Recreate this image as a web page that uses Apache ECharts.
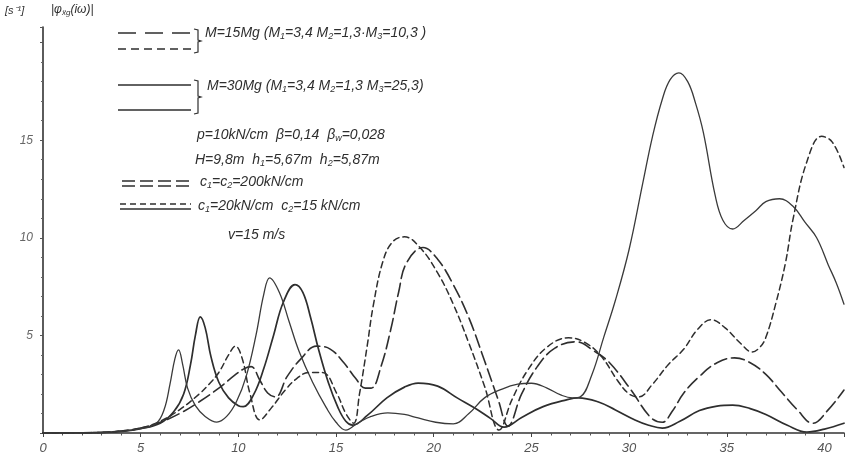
<!DOCTYPE html>
<html><head><meta charset="utf-8">
<script src="https://cdn.jsdelivr.net/npm/echarts@6/dist/echarts.min.js"></script>
<style>html,body{margin:0;padding:0;background:#fff}#c{width:847px;height:461px}</style>
</head><body><div id="c"></div>
<script>
// tick labels
const xTickLabels = ['0','5','10','15','20','25','30','35','40'];
const yTickLabels = ['5','10','15'];

// M=15Mg, c1=c2=200 kN/cm  (long dash)
const m15c200 = [[0,0],[3,0.03],[4,0.1],[5,0.25],[6,0.55],[7,1.0],[8,1.6],[9,2.3],[9.8,2.95],[10.3,3.3],[10.65,3.4],[11.1,2.7],[11.5,2.05],[11.9,1.85],[12.5,2.9],[13.2,3.8],[14.0,4.45],[14.7,4.3],[15.4,3.6],[16.0,2.8],[16.5,2.3],[16.8,2.3],[17.3,3.4],[17.8,5.3],[18.2,7.2],[18.6,8.7],[19.45,9.5],[20.2,8.9],[21.0,7.6],[21.8,5.9],[22.6,3.7],[23.3,1.7],[23.8,0.35],[24.5,2.0],[25.3,3.4],[26.2,4.35],[27.3,4.67],[28.2,4.2],[29.0,3.6],[30.1,2.2],[31.1,0.8],[31.7,0.55],[32.2,1.1],[32.8,2.05],[33.6,2.9],[34.5,3.6],[35.4,3.85],[36.2,3.6],[37.0,3.0],[37.8,2.1],[38.6,1.2],[39.4,0.5],[40.2,1.2],[41,2.2]];
// M=15Mg, c1=20 c2=15 kN/cm  (short dash)
const m15c20 = [[0,0],[3,0.03],[4,0.1],[5,0.25],[6,0.6],[7,1.2],[8,2.0],[8.5,2.5],[9.0,3.1],[9.5,4.0],[9.85,4.45],[10.2,3.8],[10.6,2.0],[11.1,0.67],[11.7,1.3],[12.4,2.2],[13.0,2.8],[13.6,3.1],[14.3,3.1],[15.05,2.0],[15.5,1.0],[15.9,0.5],[16.2,2.0],[16.6,4.5],[16.9,6.5],[17.4,8.8],[17.9,9.8],[18.5,10.05],[19.3,9.5],[20.2,8.2],[21.0,6.6],[21.8,4.6],[22.6,2.4],[23.35,0.15],[24.0,1.7],[24.8,3.2],[25.8,4.4],[26.9,4.88],[27.8,4.6],[28.6,3.9],[29.4,2.7],[30.0,2.0],[30.5,1.85],[31.2,2.5],[32.0,3.5],[32.8,4.3],[33.5,5.3],[34.2,5.8],[34.9,5.4],[35.7,4.6],[36.3,4.15],[36.7,4.4],[37.0,4.9],[37.5,6.6],[38.0,8.7],[38.4,11.0],[39.1,13.9],[39.85,15.2],[40.4,14.9],[41,13.6]];
// M=30Mg, c1=c2=200 kN/cm  (solid)
const m30c200 = [[0,0],[3,0.02],[4,0.08],[5,0.22],[6.0,0.5],[6.7,1.1],[7.2,2.0],[7.55,3.5],[7.8,5.0],[8.05,5.95],[8.3,5.4],[8.6,3.9],[9.0,2.6],[9.5,1.8],[10.0,1.4],[10.25,1.35],[10.8,2.0],[11.3,3.3],[11.8,5.0],[12.3,6.7],[12.9,7.6],[13.3,7.2],[13.7,5.9],[14.1,4.3],[14.6,2.6],[15.1,1.3],[15.5,0.6],[15.85,0.4],[16.6,0.9],[17.6,1.8],[18.5,2.35],[19.2,2.56],[20.2,2.4],[21.2,1.8],[22.1,1.28],[22.9,0.75],[23.6,0.3],[24.5,0.8],[25.6,1.35],[26.8,1.7],[27.4,1.8],[28.4,1.6],[29.3,1.18],[30.3,0.67],[31.0,0.4],[31.7,0.25],[32.6,0.6],[33.6,1.15],[34.5,1.38],[35.3,1.43],[36.2,1.25],[37.0,0.95],[38.1,0.4],[39.1,0.05],[40.0,0.2],[41,0.5]];
// M=30Mg, c1=20 c2=15 kN/cm  (solid, thin)
const m30c20 = [[0,0],[3,0.02],[4,0.08],[5,0.22],[5.8,0.5],[6.2,1.2],[6.5,2.5],[6.75,3.8],[6.94,4.26],[7.15,3.5],[7.4,2.3],[7.8,1.4],[8.3,0.85],[8.9,0.56],[9.4,0.85],[9.9,1.6],[10.4,2.9],[10.9,5.0],[11.3,7.1],[11.6,7.95],[12.1,7.2],[12.6,5.7],[13.1,4.2],[13.8,2.6],[14.5,1.3],[15.0,0.55],[15.5,0.15],[16.1,0.5],[16.8,0.85],[17.65,1.03],[18.5,0.95],[19.2,0.77],[20.1,0.55],[21.0,0.47],[21.8,1.0],[22.6,1.8],[23.5,2.25],[24.3,2.5],[25.0,2.55],[25.8,2.3],[26.5,1.95],[27.1,1.8],[27.5,1.85],[28.1,3.0],[28.7,4.9],[29.3,6.8],[30.0,9.4],[30.7,12.8],[31.2,15.2],[31.7,17.1],[32.1,18.1],[32.55,18.45],[33.0,18.0],[33.4,16.9],[33.8,15.4],[34.4,12.2],[34.8,10.9],[35.3,10.45],[35.9,10.9],[36.5,11.4],[37.0,11.85],[37.7,12.0],[38.4,11.6],[39.0,10.8],[39.6,10.0],[40.2,8.6],[40.6,7.7],[41,6.6]];

const ink = '#2e2e2e';
const font = 'Liberation Sans';
const chart = echarts.init(document.getElementById('c'), null, {renderer: 'canvas'});

function txt(x, y, text, size) {
  return {type: 'text', left: x, top: y, silent: true,
    style: {text: text, font: 'italic ' + size + 'px "' + font + '"', fill: ink}};
}
function ln(x1, y1, x2, y2, dash, w) {
  return {type: 'line', silent: true, shape: {x1: x1, y1: y1, x2: x2, y2: y2},
    style: {stroke: ink, lineWidth: w || 1.5, lineDash: dash || null}};
}
function brace(x, yTop, yBot) {
  const m = (yTop + yBot) / 2;
  return {type: 'polyline', silent: true,
    shape: {points: [[x, yTop], [x + 4, yTop + 1], [x + 4, m - 1], [x + 7, m], [x + 4, m + 1], [x + 4, yBot - 1], [x, yBot]]},
    style: {stroke: ink, lineWidth: 1.2, fill: null}};
}
const sub = {fontSize: 9, fontStyle: 'italic', fontFamily: font, fill: ink, padding: [6, 0, 0, 0]};
const nrm = {fontSize: 14, fontStyle: 'italic', fontFamily: font, fill: ink};

const longDash = [13, 5];
const shortDash = [6, 4];

function curve(name, data, width, dash, color) {
  return {name: name, type: 'line', data: data, showSymbol: false, smooth: 0.4,
    lineStyle: {color: color || ink, width: width, type: dash || 'solid', cap: 'round', join: 'round'}};
}

chart.setOption({
  animation: false,
  backgroundColor: '#ffffff',
  grid: {left: 43, right: 0, top: 27, bottom: 28, containLabel: false},
  xAxis: {
    type: 'value', min: 0, max: 41, interval: 5,
    axisLine: {show: true, lineStyle: {color: '#333', width: 1.6}},
    axisTick: {show: true, length: 4, lineStyle: {color: '#444'}},
    minorTick: {show: true, splitNumber: 5, length: 2.5, lineStyle: {color: '#555'}},
    splitLine: {show: false},
    axisLabel: {margin: 9, fontSize: 13, fontStyle: 'italic', fontFamily: font, color: '#555',
      formatter: v => xTickLabels.indexOf(String(v)) >= 0 ? String(v) : ''}
  },
  yAxis: {
    type: 'value', min: 0, max: 20.8, interval: 5,
    axisLine: {show: true, lineStyle: {color: '#333', width: 1.6}},
    axisTick: {show: true, length: 3, lineStyle: {color: '#555'}},
    minorTick: {show: true, splitNumber: 5, length: 2, lineStyle: {color: '#666'}},
    splitLine: {show: false},
    axisLabel: {margin: 10, fontSize: 12, fontStyle: 'italic', fontFamily: font, color: '#666',
      formatter: v => yTickLabels.indexOf(String(v)) >= 0 ? String(v) : ''}
  },
  series: [
    curve('M=15Mg c=200', m15c200, 1.6, longDash),
    curve('M=15Mg c=20/15', m15c20, 1.5, shortDash),
    curve('M=30Mg c=200', m30c200, 1.7),
    curve('M=30Mg c=20/15', m30c20, 1.3, null, '#3a3a3a')
  ],
  graphic: [
    txt(5, 5, '[s⁻¹]', 11),
    {type: 'text', left: 51, top: 4, silent: true,
      style: {text: '{n||φ}{s|ẍg}{n|(iω)|}', rich: {n: {fontSize: 12, fontStyle: 'italic', fontFamily: font, fill: ink},
        s: {fontSize: 8, fontStyle: 'italic', fontFamily: font, fill: ink, padding: [5, 0, 0, 0]}}}},
    ln(118, 33, 193, 33, [18, 9]),
    ln(118, 49, 193, 49, [8, 5]),
    brace(194, 29, 53),
    {type: 'text', left: 205, top: 26, silent: true,
      style: {text: '{n|M=15Mg (M}{s|1}{n|=3,4 M}{s|2}{n|=1,3·M}{s|3}{n|=10,3 )}', rich: {n: nrm, s: sub}}},
    ln(118, 85, 191, 85, null, 1.7),
    ln(118, 110, 191, 110, null, 1.3),
    brace(194, 80, 114),
    {type: 'text', left: 207, top: 79, silent: true,
      style: {text: '{n|M=30Mg (M}{s|1}{n|=3,4 M}{s|2}{n|=1,3 M}{s|3}{n|=25,3)}', rich: {n: nrm, s: sub}}},
    {type: 'text', left: 197, top: 128, silent: true,
      style: {text: '{n|p=10kN/cm  β=0,14  β}{s|w}{n|=0,028}', rich: {n: nrm, s: sub}}},
    {type: 'text', left: 195, top: 153, silent: true,
      style: {text: '{n|H=9,8m  h}{s|1}{n|=5,67m  h}{s|2}{n|=5,87m}', rich: {n: nrm, s: sub}}},
    ln(122, 181, 193, 181, longDash),
    ln(122, 186, 193, 186, longDash),
    {type: 'text', left: 200, top: 175, silent: true,
      style: {text: '{n|c}{s|1}{n|=c}{s|2}{n|=200kN/cm}', rich: {n: nrm, s: sub}}},
    ln(120, 204, 191, 204, shortDash),
    ln(120, 209, 191, 209, null, 1.3),
    {type: 'text', left: 198, top: 199, silent: true,
      style: {text: '{n|c}{s|1}{n|=20kN/cm  c}{s|2}{n|=15 kN/cm}', rich: {n: nrm, s: sub}}},
    txt(228, 228, 'v=15 m/s', 14)
  ]
});
</script></body></html>
